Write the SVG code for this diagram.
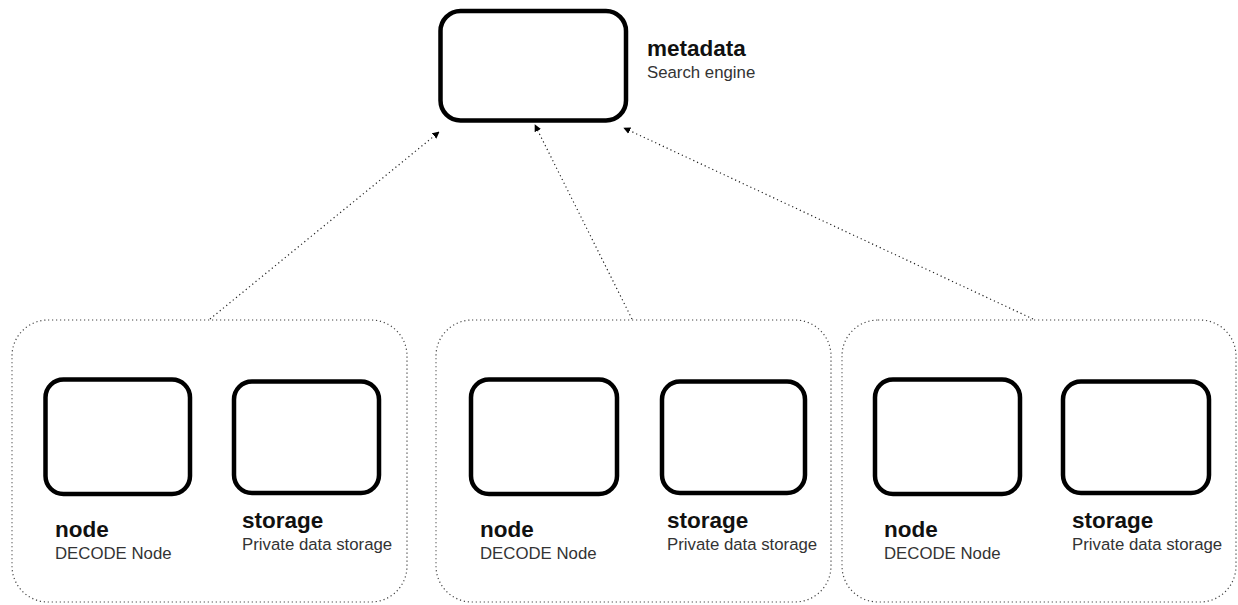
<svg xmlns="http://www.w3.org/2000/svg" width="1238" height="605" viewBox="0 0 1238 605">
<style>
.box{fill:#fff;stroke:#000;stroke-width:4.5}
.grp{fill:none;stroke:#444;stroke-width:1.2;stroke-dasharray:1.2 2.8}
.conn{fill:none;stroke:#222;stroke-width:1.2;stroke-dasharray:1.2 3}
.t{font-family:"Liberation Sans",Arial,sans-serif;font-weight:bold;font-size:22.5px;fill:#111}
.s{font-family:"Liberation Sans",Arial,sans-serif;font-size:16.8px;fill:#333}
</style>
<defs>
<marker id="ah" viewBox="0 0 10 10" refX="9" refY="5" markerWidth="7" markerHeight="7" markerUnits="userSpaceOnUse" orient="auto">
<path d="M0,0 L10,5 L0,10 z" fill="#000"/>
</marker>
</defs>
<rect width="1238" height="605" fill="#fff"/>
<g id="group1"><rect class="grp" x="12" y="320" width="395" height="282" rx="36"/></g>
<g id="group2"><rect class="grp" x="436" y="320" width="395" height="282" rx="36"/></g>
<g id="group3"><rect class="grp" x="842" y="320" width="394" height="282" rx="36"/></g>
<g id="connectors">
<line class="conn" x1="210" y1="319" x2="439" y2="132" marker-end="url(#ah)"/>
<line class="conn" x1="632" y1="319" x2="535" y2="125" marker-end="url(#ah)"/>
<line class="conn" x1="1033" y1="319" x2="624" y2="128" marker-end="url(#ah)"/>
</g>
<g id="metadata">
<rect class="box" x="440.5" y="11" width="185.5" height="109.5" rx="20"/>
<text class="t" x="647" y="56">metadata</text>
<text class="s" x="647" y="78">Search engine</text>
</g>
<g id="node1">
<rect class="box" x="45.5" y="379.5" width="144.5" height="114.5" rx="18"/>
<text class="t" x="55" y="537">node</text>
<text class="s" x="55" y="559">DECODE Node</text>
</g>
<g id="storage1">
<rect class="box" x="234" y="381.5" width="145" height="111.5" rx="18"/>
<text class="t" x="242" y="528">storage</text>
<text class="s" x="242" y="550">Private data storage</text>
</g>
<g id="node2">
<rect class="box" x="471" y="379.5" width="146" height="114.5" rx="18"/>
<text class="t" x="480" y="537">node</text>
<text class="s" x="480" y="559">DECODE Node</text>
</g>
<g id="storage2">
<rect class="box" x="662" y="381.5" width="143" height="111.5" rx="18"/>
<text class="t" x="667" y="528">storage</text>
<text class="s" x="667" y="550">Private data storage</text>
</g>
<g id="node3">
<rect class="box" x="875" y="379.5" width="145" height="114.5" rx="18"/>
<text class="t" x="884" y="537">node</text>
<text class="s" x="884" y="559">DECODE Node</text>
</g>
<g id="storage3">
<rect class="box" x="1063" y="381.5" width="146" height="111.5" rx="18"/>
<text class="t" x="1072" y="528">storage</text>
<text class="s" x="1072" y="550">Private data storage</text>
</g>
</svg>
